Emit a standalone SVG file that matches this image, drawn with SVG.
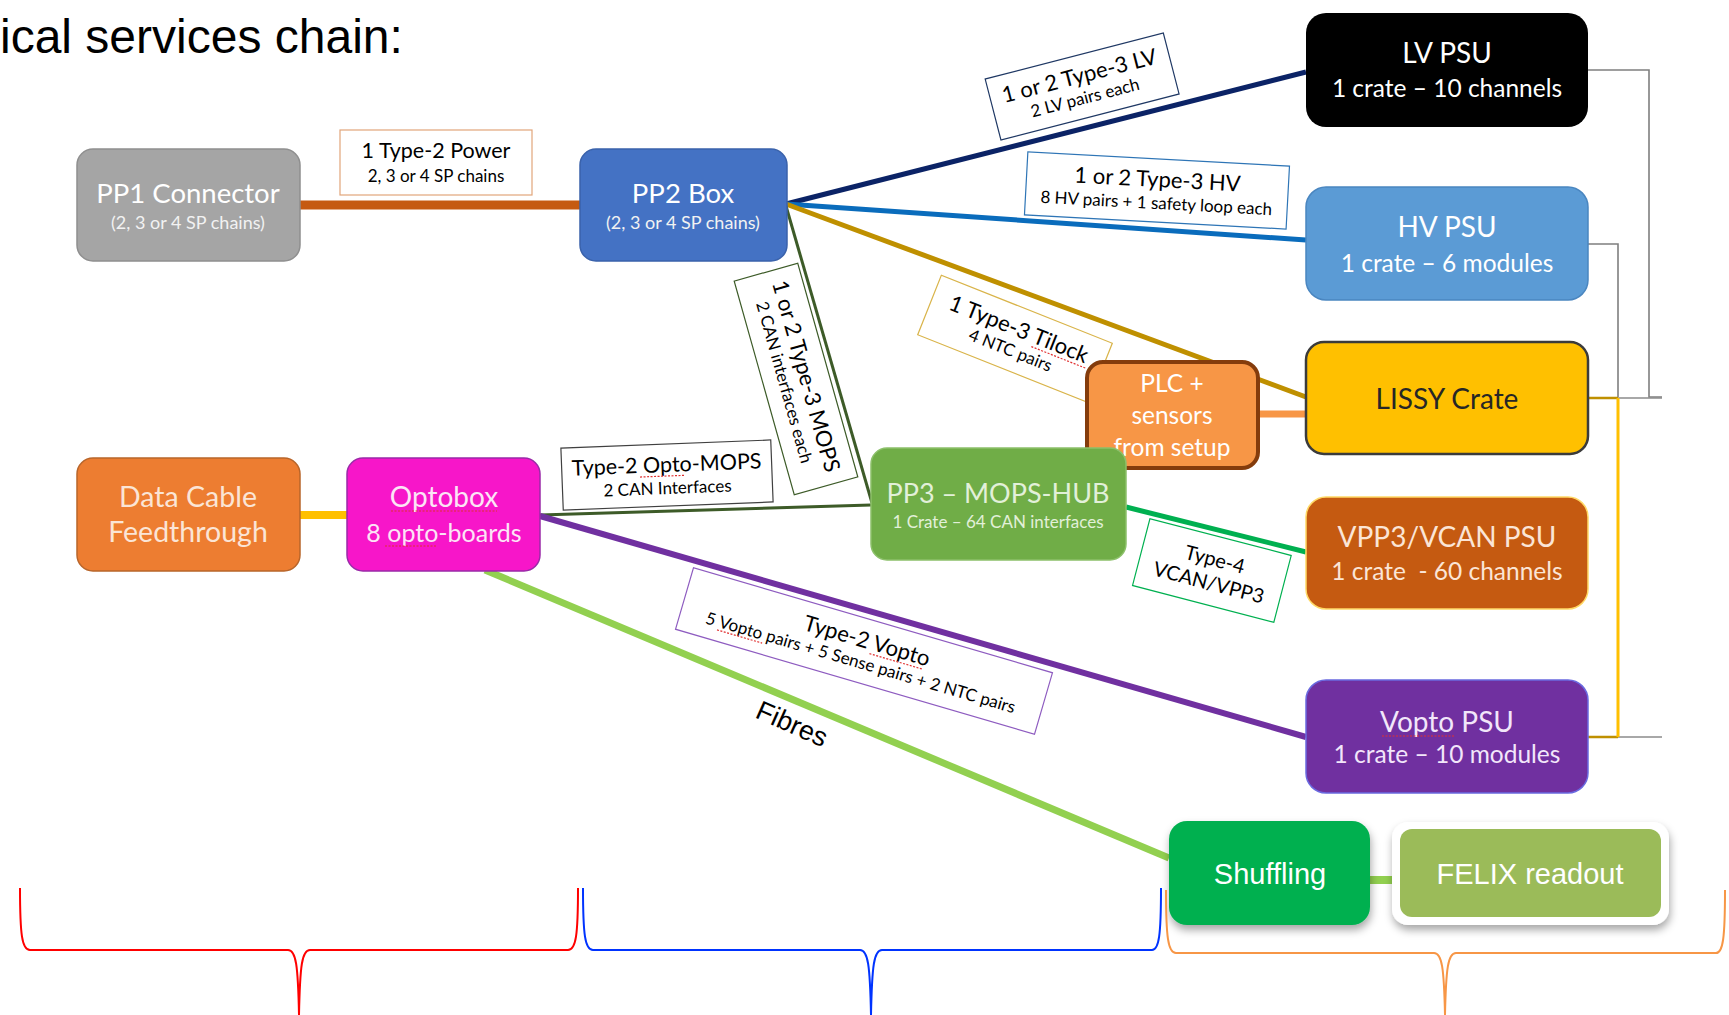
<svg xmlns="http://www.w3.org/2000/svg" width="1729" height="1015" viewBox="0 0 1729 1015">
<defs>
<style>
.t{font-family:Lato,"Open Sans","Liberation Sans",sans-serif;text-anchor:middle}
.a{font-family:"Liberation Sans",Arial,sans-serif}
.lbl{fill:#fff;stroke-width:1.2}
.ln{fill:none;stroke-linecap:butt}
.sq{fill:none;stroke:#E03030;stroke-width:1.2;stroke-dasharray:2 1.5}
.br{fill:none;stroke-width:2}
</style>
<filter id="sh" x="-20%" y="-20%" width="140%" height="150%">
<feDropShadow dx="1" dy="5" stdDeviation="4" flood-color="#000" flood-opacity="0.35"/>
</filter>
</defs>
<rect width="1729" height="1015" fill="#fff"/>
<text class="a" x="0" y="53" font-size="48" fill="#000">ical services chain:</text>

<g id="connectors">
<line class="ln" x1="300" y1="205" x2="580" y2="205" stroke="#C55A11" stroke-width="9"/>
<line class="ln" x1="300" y1="515" x2="347" y2="515" stroke="#FFC000" stroke-width="8"/>
<line class="ln" x1="786" y1="204" x2="1306" y2="72" stroke="#0B2366" stroke-width="5"/>
<line class="ln" x1="786" y1="204" x2="1306" y2="240" stroke="#0A6CBC" stroke-width="5"/>
<line class="ln" x1="786" y1="204" x2="1306" y2="397" stroke="#BF9000" stroke-width="5"/>
<line class="ln" x1="786" y1="206" x2="872" y2="503" stroke="#3D5B28" stroke-width="3"/>
<line class="ln" x1="540" y1="515" x2="871" y2="505" stroke="#3D5B28" stroke-width="3"/>
<line class="ln" x1="1126" y1="507" x2="1306" y2="552" stroke="#00B050" stroke-width="5"/>
<line class="ln" x1="540" y1="516" x2="1306" y2="737" stroke="#7030A0" stroke-width="6"/>
<line class="ln" x1="485" y1="570" x2="1169" y2="858" stroke="#92D050" stroke-width="7"/>
<line class="ln" x1="1258" y1="414" x2="1306" y2="414" stroke="#F79646" stroke-width="7"/>
<line class="ln" x1="1370" y1="880" x2="1400" y2="880" stroke="#92D050" stroke-width="8"/>
<path class="ln" d="M1588,70 H1649 V397 H1662" stroke="#7F7F7F" stroke-width="1.6"/>
<path class="ln" d="M1588,244 H1618 V397" stroke="#7F7F7F" stroke-width="1.6"/>
<path class="ln" d="M1618,398 H1662 M1618,737 H1662" stroke="#8C8C8C" stroke-width="1.4"/>
<path class="ln" d="M1588,398 H1618 M1588,737 H1618" stroke="#BF9000" stroke-width="2.5"/>
<path class="ln" d="M1618,398 V737" stroke="#FFC000" stroke-width="3"/>

<g transform="translate(436,162)">
<rect class="lbl" x="-96" y="-32" width="192" height="65" stroke="#E2A57A"/>
<text class="t" x="0" y="-4" font-size="21.5" fill="#000">1 Type-2 Power</text>
<text class="t" x="0" y="20" font-size="17" fill="#000">2, 3 or 4 SP chains</text>
</g>
<g transform="translate(1082,86) rotate(-14.5)">
<rect class="lbl" x="-92" y="-31" width="184" height="63" stroke="#1F3864"/>
<text class="t" x="0" y="-3" font-size="22" fill="#000">1 or 2 Type-3 LV</text>
<text class="t" x="0" y="18" font-size="17" fill="#000">2 LV pairs each</text>
</g>
<g transform="translate(1157,190) rotate(3.1)">
<rect class="lbl" x="-131" y="-31" width="262" height="63" stroke="#2E75B6"/>
<text class="t" x="0" y="-3" font-size="22" fill="#000">1 or 2 Type-3 HV</text>
<text class="t" x="0" y="19" font-size="17" fill="#000">8 HV pairs + 1 safety loop each</text>
</g>
<g transform="translate(1015,339) rotate(21.7)">
<rect class="lbl" x="-92" y="-32" width="184" height="64" stroke="#D9B44A"/>
<text class="t" x="0" y="-3" font-size="22" fill="#000">1 Type-3 Tilock</text>
<path class="sq" d="M18,1 H76"/>
<text class="t" x="0" y="18" font-size="17" fill="#000">4 NTC pairs</text>
</g>
<g transform="translate(796,379) rotate(74.3)">
<rect class="lbl" x="-111" y="-33" width="222" height="66" stroke="#3D5B28"/>
<text class="t" x="0" y="-3" font-size="22" fill="#000">1 or 2 Type-3 MOPS</text>
<text class="t" x="0" y="18" font-size="17" fill="#000">2 CAN interfaces each</text>
</g>
<g transform="translate(667,475) rotate(-2.2)">
<rect class="lbl" x="-105" y="-31" width="210" height="62" stroke="#404040"/>
<text class="t" x="0" y="-3" font-size="21.5" fill="#000">Type-2 Opto-MOPS</text>
<path class="sq" d="M-27,1 H18"/>
<text class="t" x="0" y="19" font-size="17" fill="#000">2 CAN Interfaces</text>
</g>
<g transform="translate(1212,570) rotate(14.6)">
<rect class="lbl" x="-73" y="-34" width="146" height="69" stroke="#00B050"/>
<text class="t" x="0" y="-4" font-size="20" fill="#000">Type-4</text>
<text class="t" x="0" y="20" font-size="20" fill="#000">VCAN/VPP3</text>
</g>
<g transform="translate(864,651) rotate(16.3)">
<rect class="lbl" x="-187" y="-32" width="374" height="64" stroke="#8E5CC0"/>
<text class="t" x="0" y="-3" font-size="22" fill="#000">Type-2 Vopto</text>
<path class="sq" d="M6,1 H62"/>
<text class="t" x="0" y="18" font-size="17" fill="#000">5 Vopto pairs + 5 Sense pairs + 2 NTC pairs</text>
<path class="sq" d="M-147,21 H-100"/>
</g>
<g transform="translate(792,724) rotate(24)">
<text class="a" x="0" y="9" font-size="27" text-anchor="middle" fill="#000">Fibres</text>
</g>
</g>

<g id="pp1">
<rect x="77" y="149" width="223" height="112" rx="16" fill="#A5A5A5" stroke="#8F8F8F" stroke-width="1.5"/>
<text class="t" x="188" y="203" font-size="27.5" fill="#fff">PP1 Connector</text>
<text class="t" x="188" y="229" font-size="18" fill="#F2F2F2">(2, 3 or 4 SP chains)</text>
</g>
<g id="pp2">
<rect x="580" y="149" width="207" height="112" rx="16" fill="#4472C4" stroke="#3A62AB" stroke-width="1.5"/>
<text class="t" x="683" y="203" font-size="27.5" fill="#fff">PP2 Box</text>
<text class="t" x="683" y="229" font-size="18" fill="#F2F2F2">(2, 3 or 4 SP chains)</text>
</g>
<g id="lvpsu">
<rect x="1306" y="13" width="282" height="114" rx="20" fill="#000"/>
<text class="t" x="1447" y="63" font-size="28" fill="#fff">LV PSU</text>
<text class="t" x="1447" y="97" font-size="24.5" fill="#fff">1 crate – 10 channels</text>
</g>
<g id="hvpsu">
<rect x="1306" y="187" width="282" height="113" rx="20" fill="#5B9BD5" stroke="#4A86C0" stroke-width="1.5"/>
<text class="t" x="1447" y="237" font-size="28" fill="#fff">HV PSU</text>
<text class="t" x="1447" y="272" font-size="24.5" fill="#fff">1 crate – 6 modules</text>
</g>
<g id="lissy">
<rect x="1306" y="342" width="282" height="112" rx="18" fill="#FFC000" stroke="#3B3B3B" stroke-width="2.5"/>
<text class="t" x="1447" y="409" font-size="28" fill="#262626">LISSY Crate</text>
</g>
<g id="vpp3">
<rect x="1306" y="497" width="282" height="112" rx="20" fill="#C55A11" stroke="#FFD966" stroke-width="1.5"/>
<text class="t" x="1447" y="547" font-size="28" fill="#FBE5D6">VPP3/VCAN PSU</text>
<text class="t" x="1447" y="580" font-size="24.5" fill="#FBE5D6" style="white-space:pre">1 crate  - 60 channels</text>
</g>
<g id="vopto">
<rect x="1306" y="680" width="282" height="113" rx="20" fill="#7030A0" stroke="#6A6AE0" stroke-width="1.5"/>
<text class="t" x="1447" y="732" font-size="28" fill="#F2E6FA">Vopto PSU</text>
<path class="sq" d="M1382,736 H1455"/>
<text class="t" x="1447" y="763" font-size="24.5" fill="#F2E6FA">1 crate – 10 modules</text>
</g>
<g id="plc">
<rect x="1087" y="362" width="171" height="106" rx="16" fill="#F79646" stroke="#843C0C" stroke-width="4"/>
<text class="t" x="1172" y="392" font-size="24.5" fill="#fff">PLC +</text>
<text class="t" x="1172" y="424" font-size="24.5" fill="#fff">sensors</text>
<text class="t" x="1172" y="456" font-size="24.5" fill="#fff">from setup</text>
</g>
<g id="pp3">
<rect x="871" y="448" width="255" height="112" rx="16" fill="#70AD47" stroke="#8CC06A" stroke-width="1.5"/>
<text class="t" x="998" y="503" font-size="27" fill="#E2F0D9">PP3 – MOPS-HUB</text>
<text class="t" x="998" y="528" font-size="17" fill="#E2F0D9">1 Crate – 64 CAN interfaces</text>
</g>
<g id="datacable">
<rect x="77" y="458" width="223" height="113" rx="16" fill="#ED7D31" stroke="#B8652A" stroke-width="1.5"/>
<text class="t" x="188" y="507" font-size="28.5" fill="#FBE5D6">Data Cable</text>
<text class="t" x="188" y="542" font-size="28.5" fill="#FBE5D6">Feedthrough</text>
</g>
<g id="optobox">
<rect x="347" y="458" width="193" height="113" rx="16" fill="#F716C9" stroke="#9A2AA8" stroke-width="1.5"/>
<text class="t" x="444" y="507" font-size="28" fill="#FCE4F6">Optobox</text>
<path class="sq" d="M391,511 H497"/>
<text class="t" x="444" y="542" font-size="25" fill="#FCE4F6">8 opto-boards</text>
<path class="sq" d="M385,546 H437"/>
</g>
<g id="shuffling">
<rect x="1169" y="821" width="201" height="104" rx="18" fill="#00B050" filter="url(#sh)"/>
<text class="a" x="1270" y="884" font-size="29" text-anchor="middle" fill="#fff">Shuffling</text>
</g>
<g id="felix">
<rect x="1392" y="822" width="277" height="103" rx="16" fill="#fff" filter="url(#sh)"/>
<rect x="1400" y="829" width="261" height="88" rx="12" fill="#9BBB59"/>
<text class="a" x="1530" y="884" font-size="29" text-anchor="middle" fill="#fff">FELIX readout</text>
</g>

<g id="brackets">
<path class="br" stroke="#FF0000" d="M20,888 C20,935 22,950 30,950 H288 C296,950 298,965 299,1015 C300,965 302,950 310,950 H568 C576,950 578,935 578,888"/>
<path class="br" stroke="#0033FF" d="M583,888 C583,935 585,950 593,950 H860 C868,950 870,965 871,1015 C872,965 874,950 882,950 H1152 C1159,950 1161,935 1161,888"/>
<path class="br" stroke="#F79646" d="M1166,890 C1166,937 1168,953 1176,953 H1434 C1442,953 1444,968 1445,1015 C1446,968 1448,953 1456,953 H1716 C1723,953 1725,938 1725,890"/>
</g>
</svg>
